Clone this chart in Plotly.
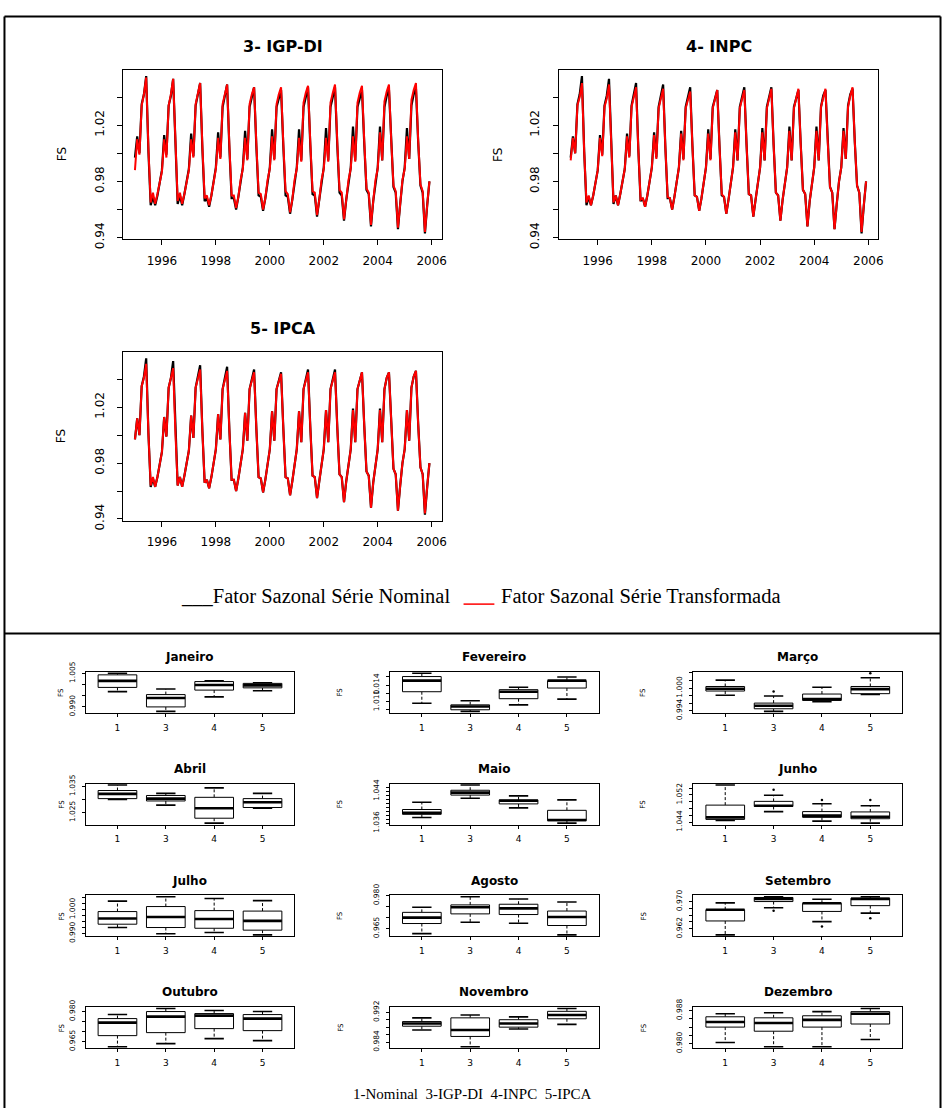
import plotly.graph_objects as go

W, H = 948, 1118

# ---------------------------------------------------------------
# Seasonal factors, one row per year (Jan..Dec), 1995-2005
# ---------------------------------------------------------------
YEARS = list(range(1995, 2006))

NOMINAL = [
    [0.997, 1.012, 1.000, 1.035, 1.042, 1.055, 1.001, 0.963, 0.969, 0.963, 0.970, 0.978],
    [0.988, 1.013, 0.999, 1.034, 1.041, 1.053, 1.002, 0.964, 0.970, 0.963, 0.971, 0.979],
    [0.989, 1.014, 0.998, 1.034, 1.041, 1.050, 1.003, 0.966, 0.968, 0.962, 0.970, 0.980],
    [0.990, 1.015, 0.997, 1.033, 1.040, 1.049, 1.004, 0.968, 0.968, 0.960, 0.969, 0.980],
    [0.990, 1.016, 0.996, 1.033, 1.039, 1.047, 1.005, 0.970, 0.969, 0.959, 0.968, 0.980],
    [0.990, 1.017, 0.996, 1.033, 1.039, 1.045, 1.005, 0.970, 0.969, 0.957, 0.967, 0.980],
    [0.990, 1.017, 0.995, 1.033, 1.040, 1.047, 1.006, 0.971, 0.970, 0.955, 0.967, 0.980],
    [0.990, 1.018, 0.995, 1.033, 1.040, 1.047, 1.006, 0.972, 0.970, 0.952, 0.967, 0.980],
    [0.990, 1.019, 0.995, 1.033, 1.040, 1.045, 1.007, 0.974, 0.971, 0.948, 0.966, 0.980],
    [0.990, 1.019, 0.995, 1.033, 1.041, 1.045, 1.008, 0.976, 0.972, 0.946, 0.964, 0.980],
    [0.990, 1.018, 0.996, 1.034, 1.042, 1.046, 1.008, 0.977, 0.972, 0.943, 0.963, 0.980],
]

IGPDI = [
    [0.988, 1.010, 0.999, 1.034, 1.042, 1.054, 1.003, 0.965, 0.972, 0.964, 0.971, 0.979],
    [0.987, 1.010, 0.997, 1.034, 1.042, 1.053, 1.004, 0.966, 0.972, 0.964, 0.971, 0.980],
    [0.988, 1.010, 0.997, 1.035, 1.042, 1.050, 1.005, 0.968, 0.970, 0.963, 0.970, 0.981],
    [0.989, 1.011, 0.996, 1.035, 1.042, 1.049, 1.006, 0.970, 0.970, 0.961, 0.969, 0.981],
    [0.989, 1.011, 0.995, 1.035, 1.042, 1.047, 1.007, 0.972, 0.971, 0.960, 0.968, 0.981],
    [0.989, 1.012, 0.995, 1.035, 1.042, 1.047, 1.007, 0.973, 0.971, 0.958, 0.967, 0.981],
    [0.989, 1.011, 0.994, 1.036, 1.043, 1.048, 1.008, 0.973, 0.972, 0.956, 0.967, 0.981],
    [0.989, 1.011, 0.994, 1.036, 1.043, 1.049, 1.008, 0.974, 0.972, 0.953, 0.967, 0.981],
    [0.989, 1.012, 0.994, 1.036, 1.043, 1.048, 1.009, 0.975, 0.972, 0.949, 0.966, 0.981],
    [0.989, 1.015, 0.995, 1.037, 1.044, 1.049, 1.009, 0.977, 0.973, 0.947, 0.964, 0.981],
    [0.989, 1.012, 0.996, 1.038, 1.045, 1.050, 1.009, 0.978, 0.973, 0.944, 0.963, 0.980],
]

INPC = [
    [0.995, 1.011, 1.000, 1.034, 1.040, 1.050, 1.001, 0.965, 0.970, 0.963, 0.970, 0.978],
    [0.988, 1.011, 0.998, 1.033, 1.039, 1.049, 1.002, 0.965, 0.970, 0.963, 0.971, 0.979],
    [0.989, 1.012, 0.997, 1.033, 1.039, 1.047, 1.003, 0.967, 0.968, 0.962, 0.970, 0.980],
    [0.990, 1.013, 0.996, 1.032, 1.039, 1.046, 1.004, 0.969, 0.968, 0.960, 0.969, 0.980],
    [0.990, 1.014, 0.995, 1.032, 1.038, 1.044, 1.005, 0.970, 0.969, 0.959, 0.968, 0.980],
    [0.990, 1.014, 0.995, 1.032, 1.038, 1.045, 1.005, 0.971, 0.969, 0.957, 0.967, 0.980],
    [0.990, 1.015, 0.995, 1.032, 1.039, 1.045, 1.006, 0.971, 0.970, 0.955, 0.967, 0.980],
    [0.990, 1.015, 0.995, 1.032, 1.039, 1.046, 1.006, 0.972, 0.970, 0.952, 0.967, 0.980],
    [0.990, 1.016, 0.995, 1.032, 1.039, 1.046, 1.007, 0.974, 0.971, 0.948, 0.966, 0.980],
    [0.990, 1.016, 0.995, 1.033, 1.040, 1.046, 1.008, 0.976, 0.972, 0.946, 0.964, 0.980],
    [0.990, 1.016, 0.996, 1.033, 1.041, 1.047, 1.008, 0.977, 0.972, 0.944, 0.963, 0.980],
]

IPCA = [
    [0.997, 1.012, 1.000, 1.035, 1.041, 1.051, 1.001, 0.964, 0.970, 0.963, 0.970, 0.978],
    [0.988, 1.013, 0.999, 1.034, 1.040, 1.048, 1.002, 0.964, 0.970, 0.963, 0.971, 0.979],
    [0.989, 1.014, 0.998, 1.034, 1.040, 1.047, 1.003, 0.966, 0.968, 0.962, 0.970, 0.980],
    [0.990, 1.015, 0.997, 1.033, 1.040, 1.046, 1.004, 0.968, 0.968, 0.960, 0.969, 0.980],
    [0.990, 1.016, 0.996, 1.033, 1.039, 1.045, 1.005, 0.970, 0.969, 0.959, 0.968, 0.980],
    [0.990, 1.017, 0.996, 1.033, 1.039, 1.044, 1.005, 0.970, 0.969, 0.957, 0.967, 0.980],
    [0.990, 1.017, 0.995, 1.033, 1.040, 1.045, 1.006, 0.971, 0.970, 0.955, 0.967, 0.980],
    [0.990, 1.018, 0.995, 1.033, 1.040, 1.045, 1.006, 0.972, 0.970, 0.952, 0.967, 0.980],
    [0.990, 1.018, 0.995, 1.033, 1.040, 1.045, 1.007, 0.974, 0.971, 0.948, 0.966, 0.980],
    [0.990, 1.018, 0.995, 1.033, 1.041, 1.045, 1.008, 0.976, 0.972, 0.946, 0.964, 0.980],
    [0.990, 1.018, 0.996, 1.034, 1.042, 1.046, 1.008, 0.977, 0.972, 0.944, 0.963, 0.980],
]

LINE_TITLES = ["3- IGP-DI", "4- INPC", "5- IPCA"]
TRANSFORMED = [IGPDI, INPC, IPCA]
X_TICKS = [1996, 1998, 2000, 2002, 2004, 2006]
Y_TICKS = [0.94, 0.96, 0.98, 1.00, 1.02, 1.04]
Y_TICK_LABELS = ["0.94", "", "0.98", "", "1.02", ""]

# ---------------------------------------------------------------
# Monthly box-plot summaries: series 1 (nominal), 3, 4, 5
# ---------------------------------------------------------------
MONTHS = ["Janeiro", "Fevereiro", "Março", "Abril", "Maio", "Junho",
          "Julho", "Agosto", "Setembro", "Outubro", "Novembro", "Dezembro"]
GROUPS = ["1", "3", "4", "5"]

BOX_LW = [
    [0.9968, 0.9880, 0.9945, 0.9972],
    [1.0096, 1.0076, 1.0092, 1.0106],
    [0.9981, 0.9938, 0.9964, 0.9983],
    [1.0300, 1.0278, 1.0209, 1.0266],
    [1.0374, 1.0422, 1.0398, 1.0360],
    [1.0445, 1.0471, 1.0443, 1.0437],
    [0.9925, 0.9899, 0.9904, 0.9894],
    [0.9627, 0.9679, 0.9674, 0.9621],
    [0.9602, 0.9682, 0.9641, 0.9666],
    [0.9625, 0.9640, 0.9665, 0.9655],
    [0.98725, 0.98275, 0.9875, 0.98875],
    [0.98025, 0.97925, 0.97925, 0.9810],
]
BOX_Q1 = [
    [0.9987, 0.9900, 0.9975, 0.9985],
    [1.0124, 1.0080, 1.0107, 1.0133],
    [0.9992, 0.9945, 0.9967, 0.9985],
    [1.0303, 1.0294, 1.0228, 1.0269],
    [1.0382, 1.0430, 1.0408, 1.0366],
    [1.0448, 1.0486, 1.0454, 1.0450],
    [0.9939, 0.9925, 0.9922, 0.9914],
    [0.9673, 0.9717, 0.9714, 0.9664],
    [0.9643, 0.9700, 0.9671, 0.9688],
    [0.9680, 0.9695, 0.9715, 0.9705],
    [0.98825, 0.9855, 0.9880, 0.99025],
    [0.9840, 0.9830, 0.9840, 0.98475],
]
BOX_MED = [
    [1.0016, 0.9940, 0.9998, 0.9996],
    [1.0151, 1.0088, 1.0124, 1.0151],
    [0.9998, 0.9953, 0.9971, 0.9997],
    [1.0321, 1.0303, 1.0266, 1.0289],
    [1.0386, 1.0436, 1.0416, 1.0368],
    [1.0454, 1.0488, 1.0459, 1.0456],
    [0.9963, 0.9969, 0.9961, 0.9953],
    [0.9700, 0.9747, 0.9742, 0.9703],
    [0.9676, 0.9708, 0.9695, 0.9708],
    [0.9745, 0.9775, 0.9780, 0.9765],
    [0.9890, 0.98725, 0.9890, 0.99125],
    [0.98525, 0.9850, 0.98575, 0.98725],
]
BOX_Q3 = [
    [1.0043, 0.9955, 1.0013, 1.0005],
    [1.0161, 1.0092, 1.0129, 1.0151],
    [1.0004, 0.9960, 0.9984, 1.0004],
    [1.0334, 1.0315, 1.0308, 1.0303],
    [1.0394, 1.0442, 1.0418, 1.0392],
    [1.0490, 1.0501, 1.0471, 1.0470],
    [0.9992, 1.0013, 0.9996, 0.9994],
    [0.9724, 0.9758, 0.9761, 0.9730],
    [0.9676, 0.9712, 0.9695, 0.9710],
    [0.9765, 0.9800, 0.9790, 0.9785],
    [0.9895, 0.9905, 0.9900, 0.99225],
    [0.9865, 0.98625, 0.98675, 0.98775],
]
BOX_UW = [
    [1.0050, 0.9980, 1.0017, 1.0008],
    [1.0169, 1.0102, 1.0135, 1.0160],
    [1.0021, 0.9979, 1.0002, 1.0027],
    [1.0355, 1.0323, 1.0344, 1.0323],
    [1.0412, 1.0455, 1.0428, 1.0418],
    [1.0549, 1.0519, 1.0494, 1.0488],
    [1.0036, 1.0054, 1.0047, 1.0038],
    [0.9747, 0.9795, 0.9785, 0.9771],
    [0.9696, 0.9714, 0.9707, 0.9714],
    [0.9785, 0.9815, 0.9805, 0.9800],
    [0.9905, 0.99125, 0.99075, 0.9930],
    [0.98725, 0.9875, 0.98775, 0.9885],
]
BOX_OUTLIERS = [
    [[], [], [], []],
    [[], [], [], []],
    [[], [0.9991], [], [1.0039]],
    [[], [], [], []],
    [[], [], [], []],
    [[], [1.0535], [1.0505], [1.0505]],
    [[], [], [], []],
    [[], [], [], []],
    [[], [0.9673], [0.9627], [0.9651]],
    [[], [], [], []],
    [[], [], [], []],
    [[], [], [], []],
]
BOX_TICKS = [
    [0.990, 0.995, 1.000, 1.005],
    [1.008, 1.010, 1.012, 1.014, 1.016],
    [0.994, 0.996, 0.998, 1.000, 1.002, 1.004],
    [1.025, 1.030, 1.035],
    [1.036, 1.037, 1.038, 1.039, 1.040, 1.041, 1.042, 1.043, 1.044, 1.045],
    [1.044, 1.046, 1.048, 1.050, 1.052, 1.054],
    [0.9900, 0.9925, 0.9950, 0.9975, 1.0000, 1.0025, 1.0050],
    [0.965, 0.970, 0.975, 0.980],
    [0.962, 0.964, 0.966, 0.968, 0.970, 0.972],
    [0.965, 0.970, 0.975, 0.980],
    [0.984, 0.986, 0.988, 0.990, 0.992],
    [0.980, 0.982, 0.984, 0.986, 0.988],
]
BOX_TICK_LABELS = [
    ["0.990", "1.005"], ["1.010", "1.014"], ["0.994", "1.000"],
    ["1.025", "1.035"], ["1.036", "1.044"], ["1.044", "1.052"],
    ["0.990", "1.000"], ["0.965", "0.980"], ["0.962", "0.970"],
    ["0.965", "0.980"], ["0.984", "0.992"], ["0.980", "0.988"],
]

LEGEND_NOMINAL = "___Fator Sazonal Série Nominal"
LEGEND_TRANSFORMED = "Fator Sazonal Série Transformada"
CAPTION = ["1-Nominal", "3-IGP-DI", "4-INPC", "5-IPCA"]

# ---------------------------------------------------------------
# Page geometry (pixels)
# ---------------------------------------------------------------
LINE_PANELS = [((124, 444), (59, 232)), ((562, 883), (59, 232)), ((124, 444), (347, 519))]
BOX_COLS = [(86, 296), (392, 602), (697, 907)]
BOX_ROWS = [(673, 715), (787, 829), (901, 943), (1015, 1057)]

SANS = "DejaVu Sans, Arial, sans-serif"
SERIF = "Liberation Serif, Times New Roman, serif"


def px(x):
    return x / W


def py(y):
    return 1 - y / H


def ax_name(kind, n):
    return f"{kind}axis" if n == 1 else f"{kind}axis{n}"


def ax_ref(kind, n):
    return kind if n == 1 else f"{kind}{n}"


def axis_style(**kw):
    base = dict(showline=True, mirror=True, linecolor="black", linewidth=1,
                ticks="outside", tickcolor="black", tickwidth=1,
                showgrid=False, zeroline=False, fixedrange=True)
    base.update(kw)
    return base


def paper_text(text, x, y, size, family=SANS, xanchor="center", angle=0, color="black"):
    return dict(text=text, x=px(x), y=py(y), xref="paper", yref="paper",
                showarrow=False, xanchor=xanchor, yanchor="middle", textangle=angle,
                font=dict(family=family, size=size, color=color))


fig = go.Figure()
layout = dict(width=W, height=H, margin=dict(l=0, r=0, t=0, b=0),
              paper_bgcolor="white", plot_bgcolor="white", showlegend=False)
annotations = []

# ---------------------------- line charts ----------------------------
t = [y + m / 12 for y in YEARS for m in range(12)]
nominal_flat = [v for row in NOMINAL for v in row]

for k, (series, title) in enumerate(zip(TRANSFORMED, LINE_TITLES)):
    n = k + 1
    (x0, x1), (y0, y1) = LINE_PANELS[k]
    xr, yr = ax_ref("x", n), ax_ref("y", n)
    fig.add_trace(go.Scatter(x=t, y=nominal_flat, mode="lines", xaxis=xr, yaxis=yr,
                             line=dict(color="black", width=2.2)))
    fig.add_trace(go.Scatter(x=t, y=[v for row in series for v in row], mode="lines",
                             xaxis=xr, yaxis=yr, line=dict(color="red", width=2)))
    layout[ax_name("x", n)] = axis_style(
        domain=[px(x0), px(x1)], range=[1994.57, 2006.37], anchor=yr,
        tickvals=X_TICKS, ticklen=5, ticklabelstandoff=5,
        tickfont=dict(family=SANS, size=12, color="black"))
    layout[ax_name("y", n)] = axis_style(
        domain=[py(y1), py(y0)], range=[0.9387, 1.0594], anchor=xr,
        tickvals=Y_TICKS, ticktext=Y_TICK_LABELS, tickangle=-90, ticklen=5,
        ticklabelstandoff=9, tickfont=dict(family=SANS, size=12, color="black"))
    annotations.append(paper_text(f"<b>{title}</b>", (x0 + x1) / 2, y0 - 24, 16))
    annotations.append(paper_text("FS", x0 - 62, (y0 + y1) / 2, 12, angle=-90))

# ---------------------------- box plots ----------------------------
BOX_HALF = 0.4
STAPLE_HALF = 0.2

for m, month in enumerate(MONTHS):
    n = 4 + m
    r, c = divmod(m, 3)
    x0, x1 = BOX_COLS[c]
    y0, y1 = BOX_ROWS[r]
    xr, yr = ax_ref("x", n), ax_ref("y", n)

    box_x, box_y, med_x, med_y = [], [], [], []
    wh_x, wh_y, st_x, st_y, out_x, out_y = [], [], [], [], [], []
    for i in range(len(GROUPS)):
        pos = i + 1
        lw, q1, med = BOX_LW[m][i], BOX_Q1[m][i], BOX_MED[m][i]
        q3, uw = BOX_Q3[m][i], BOX_UW[m][i]
        box_x += [pos - BOX_HALF, pos + BOX_HALF, pos + BOX_HALF, pos - BOX_HALF, pos - BOX_HALF, None]
        box_y += [q1, q1, q3, q3, q1, None]
        med_x += [pos - BOX_HALF, pos + BOX_HALF, None]
        med_y += [med, med, None]
        wh_x += [pos, pos, None, pos, pos, None]
        wh_y += [q3, uw, None, q1, lw, None]
        st_x += [pos - STAPLE_HALF, pos + STAPLE_HALF, None, pos - STAPLE_HALF, pos + STAPLE_HALF, None]
        st_y += [uw, uw, None, lw, lw, None]
        for v in BOX_OUTLIERS[m][i]:
            out_x.append(pos)
            out_y.append(v)

    fig.add_trace(go.Scatter(x=wh_x, y=wh_y, mode="lines", xaxis=xr, yaxis=yr,
                             line=dict(color="black", width=1, dash="3px,2px")))
    fig.add_trace(go.Scatter(x=st_x, y=st_y, mode="lines", xaxis=xr, yaxis=yr,
                             line=dict(color="black", width=1.6)))
    fig.add_trace(go.Scatter(x=box_x, y=box_y, mode="lines", xaxis=xr, yaxis=yr,
                             fill="toself", fillcolor="white",
                             line=dict(color="black", width=1)))
    fig.add_trace(go.Scatter(x=med_x, y=med_y, mode="lines", xaxis=xr, yaxis=yr,
                             line=dict(color="black", width=2.6)))
    if out_x:
        fig.add_trace(go.Scatter(x=out_x, y=out_y, mode="markers", xaxis=xr, yaxis=yr,
                                 marker=dict(color="black", size=2.5)))

    values = BOX_LW[m] + BOX_UW[m] + [v for g in BOX_OUTLIERS[m] for v in g]
    lo, hi = min(values), max(values)
    pad = 0.04 * (hi - lo)
    labels = BOX_TICK_LABELS[m]
    tick_text = [f"{v:.3f}" if f"{v:.3f}" in labels else "" for v in BOX_TICKS[m]]

    layout[ax_name("x", n)] = axis_style(
        domain=[px(x0), px(x1)], range=[0.34, 4.66], anchor=yr,
        tickvals=[1, 2, 3, 4], ticktext=GROUPS, ticklen=3, ticklabelstandoff=3,
        tickfont=dict(family=SANS, size=9, color="black"))
    layout[ax_name("y", n)] = axis_style(
        domain=[py(y1), py(y0)], range=[lo - pad, hi + pad], anchor=xr,
        tickvals=BOX_TICKS[m], ticktext=tick_text, tickangle=-90, ticklen=3,
        ticklabelstandoff=4, tickfont=dict(family=SANS, size=7.5, color="black"))
    annotations.append(paper_text(f"<b>{month}</b>", (x0 + x1) / 2, y0 - 15, 12))
    fs_x = 62 if c == 0 else x0 - 50
    annotations.append(paper_text("FS", fs_x, (y0 + y1) / 2, 7, angle=-90))

# ---------------------------- captions ----------------------------
annotations.append(paper_text(LEGEND_NOMINAL, 454, 596, 20.5, family=SERIF, xanchor="right"))
annotations.append(paper_text(LEGEND_TRANSFORMED, 502, 596, 20.5, family=SERIF, xanchor="left"))
annotations.append(paper_text("&nbsp;&nbsp;".join(CAPTION), 475, 1104, 15, family=SERIF))

# ---------------------------- frame and legend key ----------------------------
frame = dict(type="line", xref="paper", yref="paper", line=dict(color="black", width=2))
shapes = [
    dict(frame, x0=px(4.5), x1=px(4.5), y0=py(4.5), y1=py(H)),
    dict(frame, x0=px(945.5), x1=px(945.5), y0=py(4.5), y1=py(H)),
    dict(frame, x0=px(4.5), x1=px(945.5), y0=py(4.5), y1=py(4.5)),
    dict(frame, x0=px(4.5), x1=px(945.5), y0=py(634), y1=py(634)),
    dict(type="line", xref="paper", yref="paper", x0=px(466), x1=px(497),
         y0=py(604), y1=py(604), line=dict(color="red", width=1.5)),
]

layout["annotations"] = annotations
layout["shapes"] = shapes
fig.update_layout(**layout)
fig.write_html("out.html")
